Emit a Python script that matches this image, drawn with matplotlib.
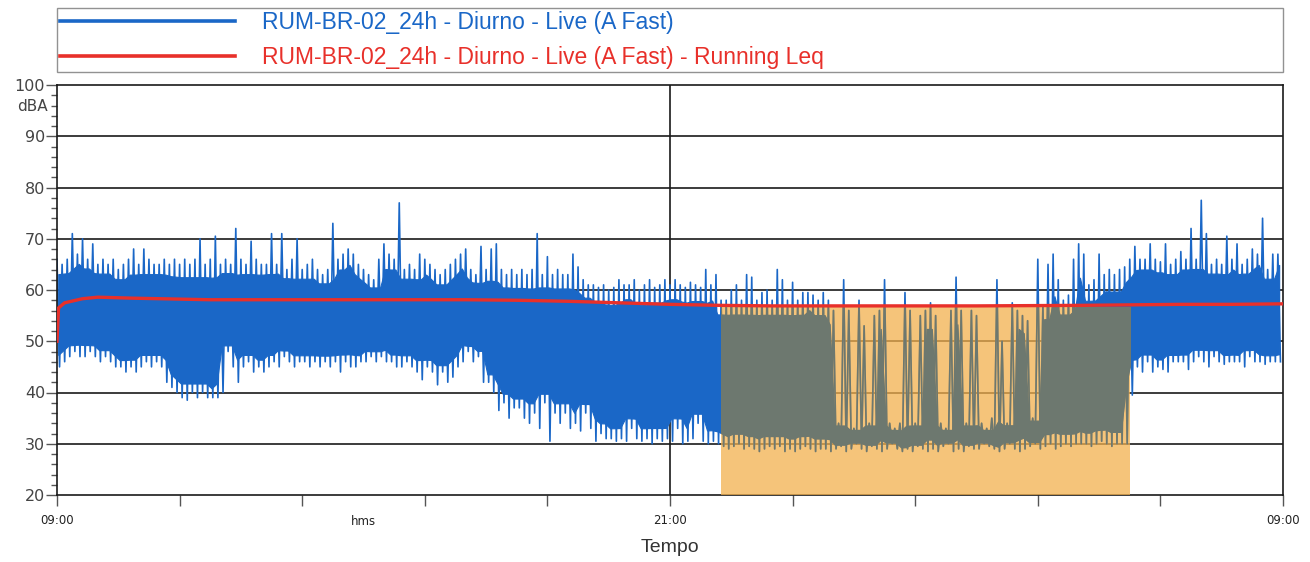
import numpy as np
import matplotlib.pyplot as plt
from matplotlib.ticker import MultipleLocator, FixedLocator
from matplotlib.patches import Rectangle
import matplotlib.transforms as mtransforms

plt.rcParams['font.family'] = ['DejaVu Sans']

# Live (A Fast): upper / lower envelope, one value every 6 minutes from 09:00 (one row per hour)
live_max = [
    66, 65, 66, 71, 67, 70, 66, 69, 65, 66,
    65, 66, 64, 65, 66, 68, 65, 68, 66, 65,
    65, 66, 65, 66, 65, 66, 65, 66, 70, 65,
    66, 70.5, 65, 66, 65, 72, 66, 65, 69.5, 66,
    65, 65, 71, 65, 71, 64, 66, 70, 64, 65,
    66, 64, 63, 64, 73, 66, 67, 68, 67, 65,
    64, 63, 62, 66, 69, 67, 66, 77, 64, 65,
    64, 67, 66, 65, 64, 63, 64, 65, 66, 67,
    68, 64, 63, 68.5, 64, 68, 69, 64, 63, 64,
    63, 64, 63, 64, 71, 63, 66.5, 63, 64, 63,
    63, 67, 64.5, 62, 61, 61, 60.5, 61, 60, 60.5,
    62, 61, 61, 62, 60, 61, 62, 60.5, 61, 62,
    61, 62, 61, 60.5, 61.5, 61, 60.5, 64, 61, 63,
    58, 58, 60, 61, 58, 63, 62.5, 58, 59.5, 60,
    58, 64, 62, 58, 61.5, 58, 59.5, 59.5, 59, 58,
    59.5, 58, 56, 34, 62, 56, 33, 58, 53, 34,
    55, 56, 62, 34, 33, 34, 59.5, 56, 34, 55,
    56, 57.5, 55, 34, 33, 56, 62.5, 56, 34, 56,
    55, 34, 33, 35, 62, 50, 34, 57.5, 56, 55,
    54, 35, 66, 57, 65, 67, 62, 58, 59, 66,
    69, 67, 61, 62, 67, 63, 64, 63, 64, 64.5,
    66, 68.5, 66, 66, 69, 66, 65.5, 69, 65, 66,
    67.5, 66, 72, 66, 77.5, 71, 65, 66, 65, 70.5,
    66, 69, 65, 66, 68, 67, 74, 64, 67, 67,
]
live_min = [
    45, 46, 47, 48, 47, 47, 48, 47, 46, 47,
    46, 45, 45, 44, 45, 44, 45, 46, 45, 46,
    45, 42, 41, 40, 39, 38.5, 40, 39, 40, 39,
    39, 39, 40, 48, 45, 42, 45, 46, 44, 45,
    44, 45, 46, 45, 47, 46, 45, 46, 46, 45,
    46, 45, 46, 45, 46, 44, 46, 45, 45, 46,
    46, 47, 46, 47, 46, 46, 45, 45, 46, 45,
    44, 42.5, 45, 44, 41.5, 44, 42, 43, 45, 46,
    48, 46, 47, 42, 42, 40, 36.5, 38, 35, 37,
    37, 35, 34, 36, 33, 38, 30.5, 36, 34, 36,
    33, 34, 32.5, 36, 33, 30.5, 32, 31, 31, 30.5,
    31, 30.5, 33, 31, 30.5, 31, 30, 31, 30.5, 31,
    30.5, 33, 30, 30.5, 31, 34, 30.5, 30, 30.5, 30,
    29.5, 29, 29.5, 30, 29, 29.5, 29, 28.5, 29, 29.5,
    29, 29.5, 28.5, 29, 28.5, 29, 29.5, 29, 28.5, 29,
    29, 28.5, 29, 29.5, 28.5, 29, 30, 29, 28.5, 29.5,
    29, 28.5, 29, 30, 29, 28.5, 29, 28.5, 29.5, 29,
    28.5, 29, 28.5, 29.5, 30, 28.5, 29, 28.5, 29.5, 29,
    29, 30, 29.5, 29, 28.5, 29, 30, 29, 28.5, 29,
    29.5, 30, 29, 29.5, 30, 29, 29.5, 30, 29.5, 30,
    30, 30, 29.5, 30, 30.5, 30, 29.5, 30, 30, 30,
    39.5, 45, 44, 46, 44, 45, 44.5, 44, 46, 46,
    46, 44.5, 46, 47, 46, 45, 47, 46, 45.5, 46,
    46, 46, 45, 47, 46, 46, 45.5, 46, 46, 46,
]

# Running Leq
leq_hours = [0, 0.03, 0.15, 0.5, 0.8, 1.5, 3, 5, 7, 8, 9, 10, 11, 12, 13, 14, 16, 18, 20, 21, 22, 23, 24]
leq_db = [50, 56.5, 57.5, 58.3, 58.6, 58.4, 58.1, 58.1, 58.1, 58.1, 58.0, 57.8, 57.5, 57.2, 57.0,
          56.9, 56.9, 56.9, 57.0, 57.1, 57.2, 57.2, 57.3]

# masked (night) interval
night_start, night_end, night_top = 13.0, 21.0, 56.6

legend_labels = ['RUM-BR-02_24h - Diurno - Live (A Fast)',
                 'RUM-BR-02_24h - Diurno - Live (A Fast) - Running Leq']
x_tick_hours = np.arange(0, 24.01, 2.4)
x_tick_labels = ['09:00', '', '', '', '', '21:00', '', '', '', '', '09:00']

blue_c = '#1a67c7'
red_c = '#e8302a'
gray_c = '#6d786f'

hi = np.array(live_max, dtype=float)
lo = np.array(live_min, dtype=float)
t = np.arange(len(hi)) * 0.1
tt = np.column_stack([t, t + 0.05]).ravel()
yy = np.column_stack([hi, lo]).ravel()

# dense part of the band (the spikes come from the zigzag line)
win = 3
hp = np.pad(hi, win // 2, mode='edge')
lp = np.pad(lo, win // 2, mode='edge')
env_hi = np.lib.stride_tricks.sliding_window_view(hp, win).min(axis=1)
env_lo = np.lib.stride_tricks.sliding_window_view(lp, win).max(axis=1)
core_hi = env_lo + 0.9 * (env_hi - env_lo)
core_lo = env_lo + 0.07 * (env_hi - env_lo)

fig = plt.figure(figsize=(13.1, 5.62), dpi=100)
ax = fig.add_axes([57 / 1310, 1 - 495 / 562, 1226 / 1310, 410 / 562])

ax.fill_between(t + 0.025, core_lo, core_hi, color=blue_c, lw=0.8, zorder=2)
blue_line, = ax.plot(tt, yy, color=blue_c, lw=1.2, zorder=2)

# night window: light orange, the trace inside it shows grey
night = Rectangle((night_start, 20), night_end - night_start, night_top - 20,
                  facecolor='#f2b04e', alpha=0.75, lw=0, zorder=3)
ax.add_patch(night)
g_band = ax.fill_between(t + 0.025, core_lo, core_hi, color=gray_c, lw=0.8, zorder=3.5)
g_line, = ax.plot(tt, yy, color=gray_c, lw=1.2, zorder=3.5)
g_band.set_clip_path(night)
g_line.set_clip_path(night)

red_line, = ax.plot(leq_hours, leq_db, color=red_c, lw=2.4, zorder=4)

ax.set_xlim(0, 24)
ax.set_ylim(20, 100)
for y in range(30, 100, 10):
    ax.axhline(y, color='#1a1a1a', lw=1.2, zorder=1)
ax.axvline(12, color='#1a1a1a', lw=1.2, zorder=1)

for s in ax.spines.values():
    s.set_color('#1a1a1a')
    s.set_linewidth(1.2)

ax.set_yticks(range(20, 101, 10))
ax.yaxis.set_minor_locator(MultipleLocator(2))
ax.tick_params(axis='y', which='major', length=8, width=1, color='#555555', labelsize=11.5,
               labelcolor='#444444', pad=0.5)
ax.tick_params(axis='y', which='minor', length=4, width=1, color='#555555')

ax.xaxis.set_major_locator(FixedLocator(x_tick_hours))
ax.set_xticklabels(x_tick_labels)
ax.tick_params(axis='x', which='major', length=8, width=1, color='#555555', labelsize=8.5,
               labelcolor='#222222', pad=6)

trans = mtransforms.blended_transform_factory(ax.transAxes, ax.transData)
ax.text(-0.0075, 95.8, 'dBA', transform=trans, ha='right', va='center', fontsize=11, color='#444444')
ax.text(6.0, -0.065, 'hms', transform=mtransforms.blended_transform_factory(ax.transData, ax.transAxes),
        ha='center', va='center', fontsize=8.5, color='#222222')
fig.text(670 / 1310, 1 - 548 / 562, 'Tempo', ha='center', va='center', fontsize=14,
         family='Liberation Sans', color='#333333')

leg = fig.legend([blue_line, red_line], legend_labels, loc='upper left',
                 bbox_to_anchor=(57 / 1310, 1 - 72 / 562, 1226 / 1310, 64 / 562), mode='expand',
                 frameon=True, fancybox=False, edgecolor='#777777', borderaxespad=0,
                 borderpad=0.15, handlelength=7.6, handletextpad=1.2, labelspacing=0.5,
                 prop={'family': 'Liberation Sans', 'size': 16.5})
leg.get_frame().set_linewidth(1.0)
for txt, c in zip(leg.get_texts(), [blue_c, red_c]):
    txt.set_color(c)
for h in leg.legend_handles:
    h.set_linewidth(2.6)

fig.savefig('out.png', dpi=100)
